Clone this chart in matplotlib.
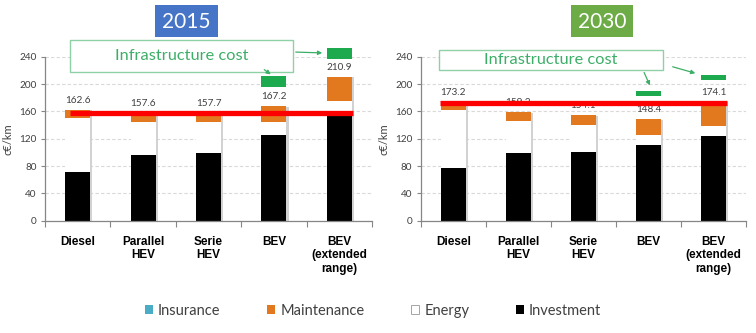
import numpy as np
import matplotlib.pyplot as plt
from matplotlib.patches import Rectangle, FancyArrowPatch

W, H = 756, 333

categories = ["Diesel", "Parallel\nHEV", "Serie\nHEV", "BEV", "BEV\n(extended\nrange)"]
years = ["2015", "2030"]

# segment values, c€/km
investment = {"2015": [71, 96, 98.5, 126, 155], "2030": [77.5, 98.5, 101, 111, 124]}
energy = {"2015": [80, 49, 46.5, 18, 20], "2030": [84.5, 47.5, 39, 14.5, 14]}
maintenance = {"2015": [11.6, 12.6, 12.7, 23.2, 35.9], "2030": [11.2, 13.2, 14.1, 22.9, 36.1]}
insurance = {"2015": [0, 0, 0, 0, 0], "2030": [0, 0, 0, 0, 0]}
totals = {"2015": [162.6, 157.6, 157.7, 167.2, 210.9], "2030": [173.2, 159.2, 154.1, 148.4, 174.1]}
# infrastructure cost boxes drawn above the BEV bars (bottom, top)
infra_low = {"2015": [np.nan, np.nan, np.nan, 195, 236], "2030": [np.nan, np.nan, np.nan, 183, 206]}
infra_high = {"2015": [np.nan, np.nan, np.nan, 212, 252], "2030": [np.nan, np.nan, np.nan, 190, 213]}
# diesel reference line
ref_level = {"2015": 158, "2030": 172}
yticks = [0, 40, 80, 120, 160, 200, 240]

C_INV = "#000000"
C_EN = "#FFFFFF"
C_MNT = "#E3791E"
C_INS = "#4BACC6"
C_INFRA = "#1DAA4E"
C_TXT_GREEN = "#3DAE68"

plt.rcParams["font.family"] = ["Lato", "DejaVu Sans"]


def px(x, y):
    return x / W, 1 - y / H


fig = plt.figure(figsize=(W / 100, H / 100), dpi=100, facecolor="white")

axes_px = {"2015": (45, 372), "2030": (420.7, 746)}
ref_span = {"2015": (-0.12, 4.21), "2030": (-0.21, 4.21)}

x = np.arange(len(categories))
bw = 0.38
for yr in years:
    x0, x1 = axes_px[yr]
    ax = fig.add_axes([x0 / W, (H - 220.7) / H, (x1 - x0) / W, (220.7 - 56.7) / H])
    inv = np.array(investment[yr])
    en = np.array(energy[yr])
    mnt = np.array(maintenance[yr])
    ins = np.array(insurance[yr])
    tot = np.array(totals[yr])

    # drop shadow
    ax.bar(x + 0.035, inv + en + mnt + ins, bw, bottom=-1, color="#D2D2D2", zorder=1)
    ax.bar(x, inv, bw, color=C_INV, zorder=2)
    ax.bar(x, en, bw, bottom=inv, color=C_EN, zorder=2)
    ax.bar(x, mnt, bw, bottom=inv + en, color=C_MNT, zorder=2)
    ax.bar(x, ins, bw, bottom=inv + en + mnt, color=C_INS, zorder=2)

    lo = np.array(infra_low[yr])
    hi = np.array(infra_high[yr])
    ax.bar(x, hi - lo, bw, bottom=lo, color=C_INFRA, zorder=2, clip_on=False)

    for xi, t in zip(x, tot):
        ax.text(xi, t + 14, f"{t:.1f}", ha="center", va="center", fontsize=7.2,
                color="#404040", zorder=3)

    ax.plot(ref_span[yr], [ref_level[yr]] * 2, color="#FF0000", lw=3.8,
            solid_capstyle="butt", zorder=4)

    ax.set_xlim(-0.5, len(categories) - 0.5)
    ax.set_ylim(0, 240)
    ax.set_yticks(yticks)
    ax.tick_params(axis="y", labelsize=7.2, length=3, width=0.8,
                   direction="out", pad=3, colors="#868686", labelcolor="#404040")
    ax.set_xticks(np.arange(-0.5, len(categories), 1.0))
    ax.set_xticklabels([])
    ax.tick_params(axis="x", length=4, width=0.8, color="#868686", direction="out")
    ax.set_xticks(x, minor=True)
    ax.set_xticklabels(categories, minor=True, fontsize=8.5, fontweight="bold",
                       family="Liberation Sans", linespacing=1.15, va="top")
    ax.tick_params(axis="x", which="minor", length=0, pad=11)
    ax.grid(axis="y", color="#D9D9D9", linestyle=(0, (3, 2)), lw=0.8, zorder=0)
    ax.set_axisbelow(True)
    for s in ["top", "right"]:
        ax.spines[s].set_visible(False)
    for s in ["left", "bottom"]:
        ax.spines[s].set_color("#868686")
        ax.spines[s].set_linewidth(0.9)
    ax.set_ylabel("c€/km", fontsize=8, color="#404040", labelpad=4)

# year badges
badges = [("2015", 155, 5, 63, 32, "#4674C6"), ("2030", 571, 5, 62, 32, "#6CAB46")]
for label, bx, by, bwid, bh, col in badges:
    fx, fy = px(bx, by + bh)
    fig.add_artist(Rectangle((fx, fy), bwid / W, bh / H, transform=fig.transFigure,
                             facecolor=col, edgecolor="none"))
    cx, cy = px(bx + bwid / 2, by + bh / 2 + 1)
    fig.text(cx, cy, label, ha="center", va="center", fontsize=15, color="white")

# "Infrastructure cost" call-out boxes
callouts = [(70, 40, 223, 32), (439, 50, 224, 20)]
for bx, by, bwid, bh in callouts:
    fx, fy = px(bx, by + bh)
    fig.add_artist(Rectangle((fx, fy), bwid / W, bh / H, transform=fig.transFigure,
                             facecolor="white", edgecolor="#8FD1A6", lw=1.0, zorder=5))
    cx, cy = px(bx + bwid / 2, by + bh / 2)
    fig.text(cx, cy, "Infrastructure cost", ha="center", va="center", fontsize=11.8,
             color=C_TXT_GREEN, zorder=6)

arrows = [((293, 52), (325, 53)), ((262, 68), (273, 76)),
          ((643, 70), (651, 88)), ((670, 66), (698, 74))]
for (ax0, ay0), (ax1, ay1) in arrows:
    fig.add_artist(FancyArrowPatch(px(ax0, ay0), px(ax1, ay1), transform=fig.transFigure,
                                   arrowstyle="-|>", mutation_scale=6, color=C_TXT_GREEN,
                                   lw=0.9, zorder=6))

handles = [Rectangle((0, 0), 1, 1, facecolor=C_INS, edgecolor="none"),
           Rectangle((0, 0), 1, 1, facecolor=C_MNT, edgecolor="none"),
           Rectangle((0, 0), 1, 1, facecolor="white", edgecolor="#A6A6A6", lw=0.7),
           Rectangle((0, 0), 1, 1, facecolor=C_INV, edgecolor="none")]
fig.legend(handles, ["Insurance", "Maintenance", "Energy", "Investment"], ncol=4,
           loc="center", bbox_to_anchor=px(373, 311), frameon=False, fontsize=10.5,
           handlelength=0.55, handleheight=0.55, handletextpad=0.35, columnspacing=3.2,
           labelcolor="#404040")

fig.savefig("out.png", dpi=100, facecolor="white")
